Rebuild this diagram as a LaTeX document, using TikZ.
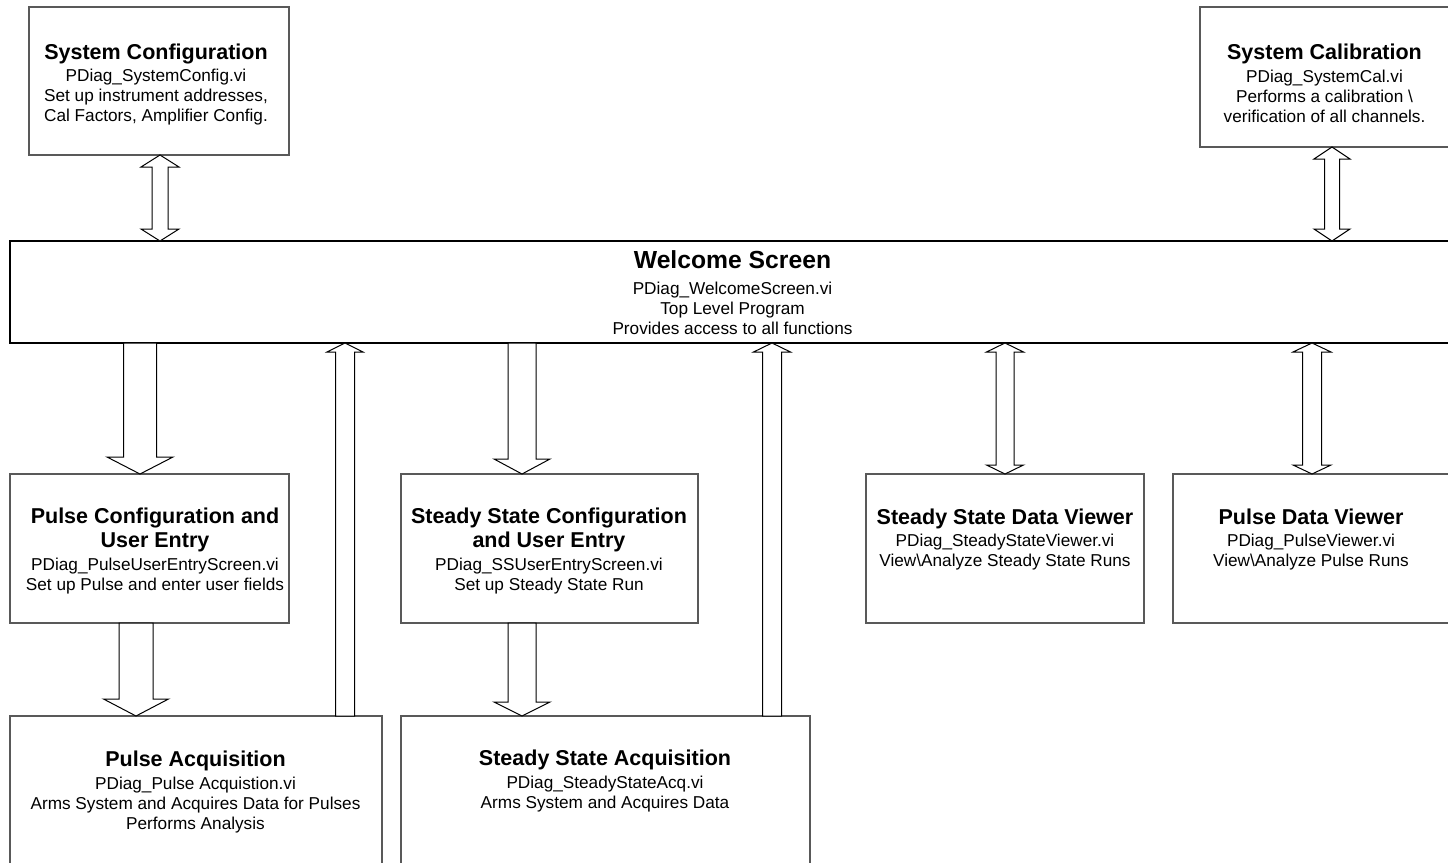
\documentclass[tikz,border=0pt]{standalone}
\usepackage{fontspec}
\setmainfont{Liberation Sans}
\usetikzlibrary{calc}
\newcommand\ttl[1]{{\fontsize{21.5}{24}\selectfont\bfseries #1}}
\newcommand\wttl[1]{{\fontsize{24.7}{28}\selectfont\bfseries #1}}
\newcommand\bodyfnt{\fontsize{17.2}{20}\selectfont\lineskiplimit=-60pt\relax\lineskip=0pt\relax}
% double block arrow: x, top anchor, bottom anchor, shaft half width, head half width, head length
\newcommand\dbarr[6]{%
 \draw[blk] let \p1=(#1,0 |- #2), \p2=(#1,0 |- #3) in
 (\x1,\y1) -- ({\x1+#5pt},{\y1-#6pt}) -- ({\x1+#4pt},{\y1-#6pt}) -- ({\x1+#4pt},{\y2+#6pt})
 -- ({\x1+#5pt},{\y2+#6pt}) -- (\x1,\y2) -- ({\x1-#5pt},{\y2+#6pt}) -- ({\x1-#4pt},{\y2+#6pt})
 -- ({\x1-#4pt},{\y1-#6pt}) -- ({\x1-#5pt},{\y1-#6pt}) -- cycle;}
\newcommand\dnarr[6]{%
 \draw[blk] let \p1=(#1,0 |- #2), \p2=(#1,0 |- #3) in
 ({\x1-#4pt},\y1) -- ({\x1+#4pt},\y1) -- ({\x1+#4pt},{\y2+#6pt}) -- ({\x1+#5pt},{\y2+#6pt})
 -- (\x1,\y2) -- ({\x1-#5pt},{\y2+#6pt}) -- ({\x1-#4pt},{\y2+#6pt}) -- cycle;}
\newcommand\uparr[6]{%
 \draw[blk] let \p1=(#1,0 |- #2), \p2=(#1,0 |- #3) in
 (\x1,\y1) -- ({\x1+#5pt},{\y1-#6pt}) -- ({\x1+#4pt},{\y1-#6pt}) -- ({\x1+#4pt},\y2)
 -- ({\x1-#4pt},\y2) -- ({\x1-#4pt},{\y1-#6pt}) -- ({\x1-#5pt},{\y1-#6pt}) -- cycle;}
\begin{document}
\begin{tikzpicture}[x=1pt,y=-1pt,
  box/.style={draw=black!65, line width=1.3pt, fill=white, inner sep=0pt, outer sep=0pt, anchor=north west},
  wbox/.style={box, draw=black, line width=2pt},
  txt/.style={align=center, inner sep=0pt, font=\bodyfnt},
  blk/.style={draw=black, line width=1pt, fill=white, line join=miter}]
\clip (0,0) rectangle (1448,862);
\useasboundingbox (0,0) rectangle (1448,862);
\fill[white] (0,0) rectangle (1448,862);

% boxes
\node[box, minimum width=260pt, minimum height=148pt] (sc) at (29,7) {};
\node[box, minimum width=260pt, minimum height=140pt] (cal) at (1200,7) {};
\node[wbox, minimum width=1450pt, minimum height=102pt] (ws) at (10,241) {};
\node[box, minimum width=279pt, minimum height=149pt] (pc) at (10,474) {};
\node[box, minimum width=297pt, minimum height=149pt] (ssc) at (401,474) {};
\node[box, minimum width=278pt, minimum height=149pt] (ssv) at (866,474) {};
\node[box, minimum width=290pt, minimum height=149pt] (pv) at (1173,474) {};
\node[box, minimum width=372pt, minimum height=180pt] (pa) at (10,716) {};
\node[box, minimum width=409pt, minimum height=180pt] (ssa) at (401,716) {};

% texts
\node[txt] (scT) at (156,84.5) {\ttl{System Configuration}\\[2.5pt]PDiag\_SystemConfig.vi\\Set up instrument addresses,\\Cal Factors, Amplifier Config.};
\node[txt] (calT) at (1324.5,83.5) {\ttl{System Calibration}\\[2.5pt]PDiag\_SystemCal.vi\\Performs a calibration \textbackslash\\verification of all channels.};
\node[txt] (wsT) at (732.5,293) {\wttl{Welcome Screen}\\[6pt]PDiag\_WelcomeScreen.vi\\Top Level Program\\Provides access to all functions};
\node[txt] (pcT) at (155,550.5) {\ttl{Pulse Configuration and}\\[4pt]\ttl{User Entry}\\[3pt]PDiag\_PulseUserEntryScreen.vi\\Set up Pulse and enter user fields};
\node[txt] (sscT) at (549,550.5) {\ttl{Steady State Configuration}\\[4pt]\ttl{and User Entry}\\[3pt]PDiag\_SSUserEntryScreen.vi\\Set up Steady State Run};
\node[txt] (ssvT) at (1005,539.5) {\ttl{Steady State Data Viewer}\\[2pt]PDiag\_SteadyStateViewer.vi\\View\textbackslash Analyze Steady State Runs};
\node[txt] (pvT) at (1311,539) {\ttl{Pulse Data Viewer}\\[2pt]PDiag\_PulseViewer.vi\\View\textbackslash Analyze Pulse Runs};
\node[txt] (paT) at (195.5,792) {\ttl{Pulse Acquisition}\\[3pt]PDiag\_Pulse Acquistion.vi\\Arms System and Acquires Data for Pulses\\Performs Analysis};
\node[txt] (ssaT) at (605,781) {\ttl{Steady State Acquisition}\\[3pt]PDiag\_SteadyStateAcq.vi\\Arms System and Acquires Data};

% block arrows
\dbarr{160}{sc.south}{ws.north}{8}{19}{12}
\dbarr{1332}{cal.south}{ws.north}{7.5}{18}{12}
\dnarr{140}{ws.south}{pc.north}{16.5}{33}{17}
\uparr{345}{ws.south}{pa.north}{9.5}{18}{9}
\dnarr{136}{pc.south}{pa.north}{17}{32.5}{17}
\dnarr{522}{ws.south}{ssc.north}{14}{28}{15}
\dnarr{522}{ssc.south}{ssa.north}{14}{28}{14}
\uparr{772}{ws.south}{ssa.north}{9.5}{18.5}{9}
\dbarr{1005}{ws.south}{ssv.north}{9}{18.5}{9}
\dbarr{1312}{ws.south}{pv.north}{9.5}{19}{9}
\end{tikzpicture}
\end{document}
